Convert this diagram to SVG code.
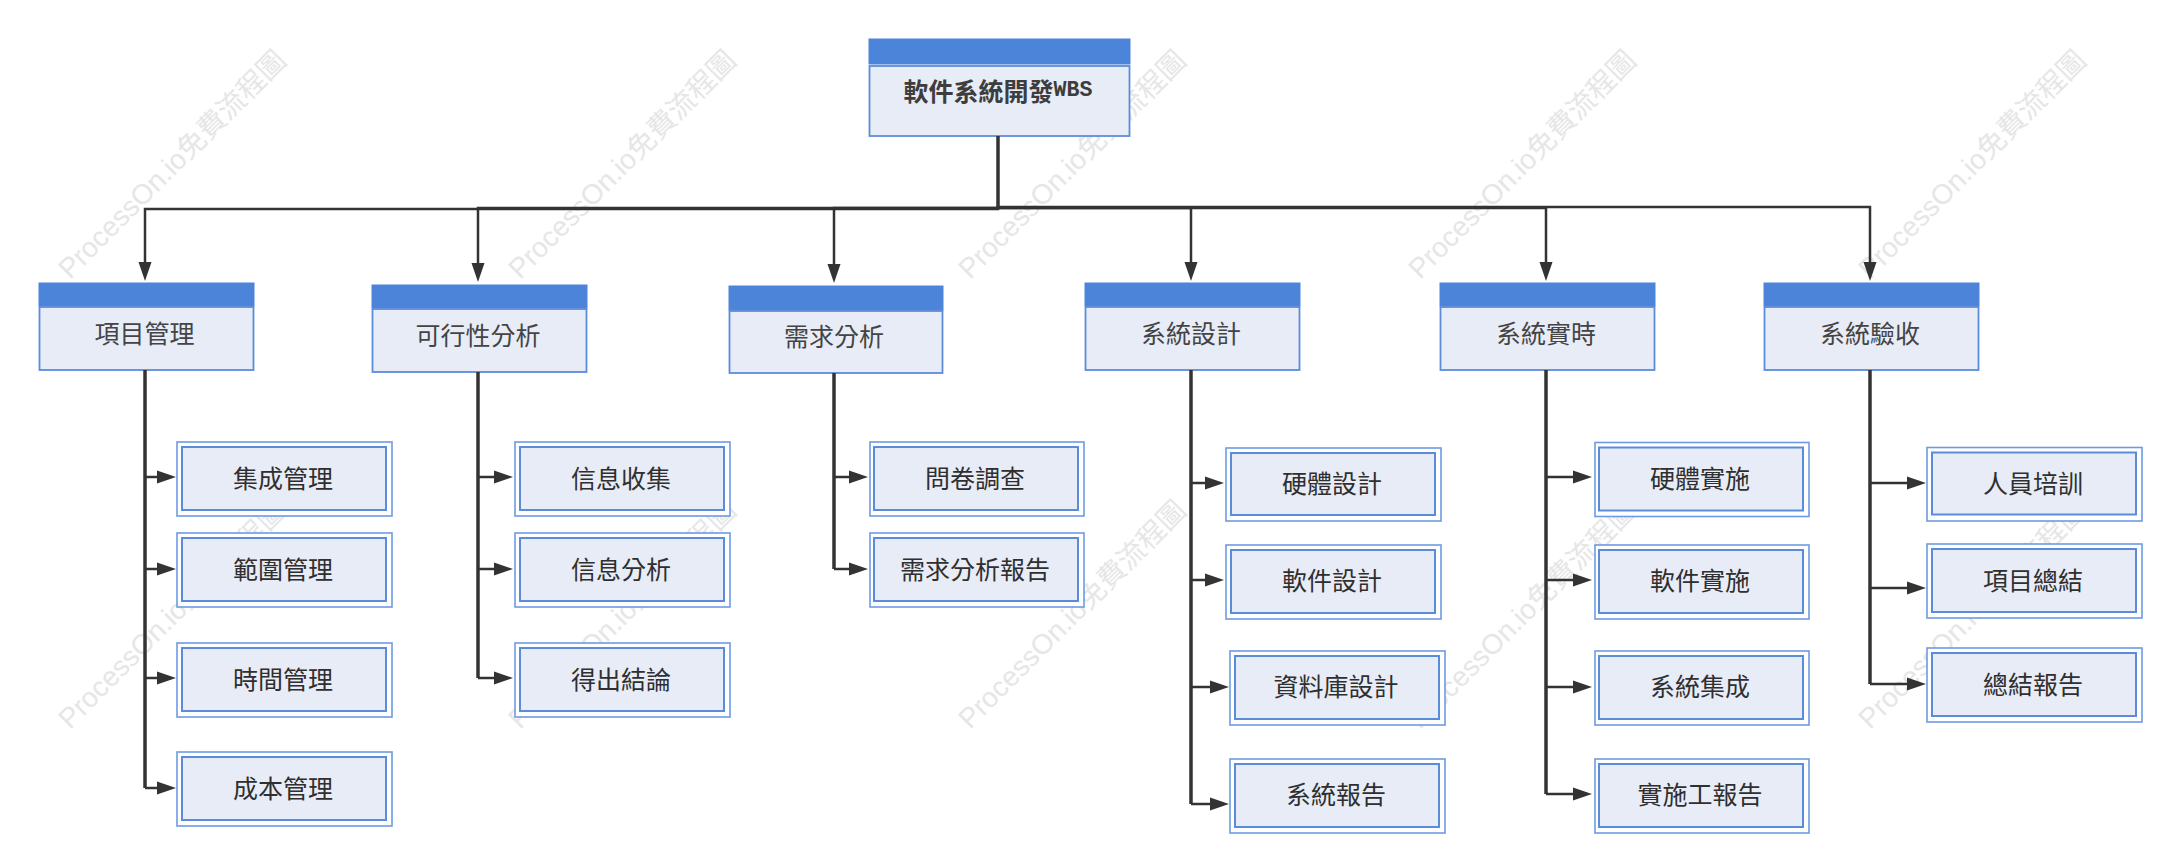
<svg xmlns="http://www.w3.org/2000/svg" width="2178" height="867" viewBox="0 0 2178 867">
<style>
.bg{fill:#fff}
.wm{font:28px "Liberation Sans","Noto Sans CJK TC",sans-serif;fill:#e6e6e6}
.hd{fill:#4c84d9;stroke:#4c84d9;stroke-width:1}
.bd{fill:#e8ecf7;stroke:#5a8cda;stroke-width:1.8}
.ou{fill:#fff;stroke:#6d9be3;stroke-width:1.6}
.in{fill:#e8ecf7;stroke:#5a8cda;stroke-width:2}
text.l{font-family:"Noto Sans CJK TC","Liberation Sans",sans-serif;font-size:25px;text-anchor:middle;dominant-baseline:central}
.p{fill:#444}
.c{fill:#2f2f2f}
.r{fill:#3d3d3d;font-weight:700}
.m{font-family:"Liberation Mono",monospace;font-size:21.6px}
.e{fill:none;stroke:#333;stroke-width:2.5;marker-end:url(#a)}
.t{fill:none;stroke:#333;stroke-width:3.5}
</style>
<defs>
<marker id="a" markerUnits="userSpaceOnUse" markerWidth="19" markerHeight="14" viewBox="0 0 19 14" refX="11" refY="7" orient="auto"><path d="M0 0.5L19 7L0 13.5z" fill="#333"/></marker>
</defs>
<rect class="bg" width="2178" height="867"/>
<g id="watermark">
<text class="wm" transform="translate(70 280) rotate(-45)">ProcessOn.io免費流程圖</text>
<text class="wm" transform="translate(520 280) rotate(-45)">ProcessOn.io免費流程圖</text>
<text class="wm" transform="translate(970 280) rotate(-45)">ProcessOn.io免費流程圖</text>
<text class="wm" transform="translate(1420 280) rotate(-45)">ProcessOn.io免費流程圖</text>
<text class="wm" transform="translate(1870 280) rotate(-45)">ProcessOn.io免費流程圖</text>
<text class="wm" transform="translate(70 730) rotate(-45)">ProcessOn.io免費流程圖</text>
<text class="wm" transform="translate(520 730) rotate(-45)">ProcessOn.io免費流程圖</text>
<text class="wm" transform="translate(970 730) rotate(-45)">ProcessOn.io免費流程圖</text>
<text class="wm" transform="translate(1420 730) rotate(-45)">ProcessOn.io免費流程圖</text>
<text class="wm" transform="translate(1870 730) rotate(-45)">ProcessOn.io免費流程圖</text>
</g>
<g id="n0"><rect class="hd" x="869" y="39" width="261" height="25"/><rect class="bd" x="869.5" y="66" width="260" height="70"/><text class="l r" x="998" y="90">軟件系統開發<tspan class="m">WBS</tspan></text></g>
<g id="n1"><rect class="hd" x="39" y="283" width="215" height="23"/><rect class="bd" x="39.5" y="307" width="214" height="63"/><text class="l p" x="144.5" y="332">項目管理</text></g>
<g id="n2"><rect class="hd" x="372" y="285" width="215" height="23"/><rect class="bd" x="372.5" y="309" width="214" height="63"/><text class="l p" x="478" y="334">可行性分析</text></g>
<g id="n3"><rect class="hd" x="729" y="286" width="214" height="24"/><rect class="bd" x="729.5" y="311" width="213" height="62"/><text class="l p" x="834" y="335">需求分析</text></g>
<g id="n4"><rect class="hd" x="1085" y="283" width="215" height="23"/><rect class="bd" x="1085.5" y="307" width="214" height="63"/><text class="l p" x="1191" y="332">系統設計</text></g>
<g id="n5"><rect class="hd" x="1440" y="283" width="215" height="23"/><rect class="bd" x="1440.5" y="307" width="214" height="63"/><text class="l p" x="1546" y="332">系統實時</text></g>
<g id="n6"><rect class="hd" x="1764" y="283" width="215" height="23"/><rect class="bd" x="1764.5" y="307" width="214" height="63"/><text class="l p" x="1870" y="332">系統驗收</text></g>

<g id="n11"><rect class="ou" x="177" y="442" width="215" height="74"/><rect class="in" x="182" y="447" width="204" height="63"/><text class="l c" x="283" y="477">集成管理</text></g>
<g id="n12"><rect class="ou" x="177" y="533" width="215" height="74"/><rect class="in" x="182" y="538" width="204" height="63"/><text class="l c" x="283" y="568">範圍管理</text></g>
<g id="n13"><rect class="ou" x="177" y="643" width="215" height="74"/><rect class="in" x="182" y="648" width="204" height="63"/><text class="l c" x="283" y="678">時間管理</text></g>
<g id="n14"><rect class="ou" x="177" y="752" width="215" height="74"/><rect class="in" x="182" y="757" width="204" height="63"/><text class="l c" x="283" y="787">成本管理</text></g>

<g id="n21"><rect class="ou" x="515" y="442" width="215" height="74"/><rect class="in" x="520" y="447" width="204" height="63"/><text class="l c" x="621" y="477">信息收集</text></g>
<g id="n22"><rect class="ou" x="515" y="533" width="215" height="74"/><rect class="in" x="520" y="538" width="204" height="63"/><text class="l c" x="621" y="568">信息分析</text></g>
<g id="n23"><rect class="ou" x="515" y="643" width="215" height="74"/><rect class="in" x="520" y="648" width="204" height="63"/><text class="l c" x="621" y="678">得出結論</text></g>

<g id="n31"><rect class="ou" x="870" y="442" width="214" height="74"/><rect class="in" x="874" y="447" width="204" height="63"/><text class="l c" x="975" y="477">問卷調查</text></g>
<g id="n32"><rect class="ou" x="870" y="533" width="214" height="74"/><rect class="in" x="874" y="538" width="204" height="63"/><text class="l c" x="975" y="568">需求分析報告</text></g>

<g id="n41"><rect class="ou" x="1226" y="448" width="215" height="73"/><rect class="in" x="1231" y="453" width="204" height="62"/><text class="l c" x="1332" y="482">硬體設計</text></g>
<g id="n42"><rect class="ou" x="1226" y="545" width="215" height="74"/><rect class="in" x="1231" y="550" width="204" height="63"/><text class="l c" x="1332" y="579">軟件設計</text></g>
<g id="n43"><rect class="ou" x="1230" y="651" width="215" height="74"/><rect class="in" x="1235" y="656" width="204" height="63"/><text class="l c" x="1336" y="685">資料庫設計</text></g>
<g id="n44"><rect class="ou" x="1230" y="759" width="215" height="74"/><rect class="in" x="1235" y="764" width="204" height="63"/><text class="l c" x="1336" y="793">系統報告</text></g>

<g id="n51"><rect class="ou" x="1595" y="442.5" width="214" height="74"/><rect class="in" x="1599" y="447.5" width="204" height="63"/><text class="l c" x="1700" y="477">硬體實施</text></g>
<g id="n52"><rect class="ou" x="1595" y="545" width="214" height="74"/><rect class="in" x="1599" y="550" width="204" height="63"/><text class="l c" x="1700" y="579">軟件實施</text></g>
<g id="n53"><rect class="ou" x="1595" y="651" width="214" height="74"/><rect class="in" x="1599" y="656" width="204" height="63"/><text class="l c" x="1700" y="685">系統集成</text></g>
<g id="n54"><rect class="ou" x="1595" y="759" width="214" height="74"/><rect class="in" x="1599" y="764" width="204" height="63"/><text class="l c" x="1700" y="793">實施工報告</text></g>

<g id="n61"><rect class="ou" x="1927" y="447.5" width="215" height="73.5"/><rect class="in" x="1932" y="452.5" width="204" height="62"/><text class="l c" x="2033" y="482">人員培訓</text></g>
<g id="n62"><rect class="ou" x="1927" y="544" width="215" height="74"/><rect class="in" x="1932" y="549" width="204" height="63"/><text class="l c" x="2033" y="579">項目總結</text></g>
<g id="n63"><rect class="ou" x="1927" y="648" width="215" height="74"/><rect class="in" x="1932" y="653" width="204" height="63"/><text class="l c" x="2033" y="683">總結報告</text></g>

<g id="connectors">
<path class="t" d="M998 136V208"/>
<path class="e" d="M998 208V209H145V273"/>
<path class="e" d="M998 208H478V274"/>
<path class="e" d="M998 208H834V275"/>
<path class="e" d="M998 208H1191V273"/>
<path class="e" d="M998 208H1546V273"/>
<path class="e" d="M998 208V207H1870V273"/>
<path class="t" d="M145 370V788"/>
<path class="e" d="M145 477H168"/><path class="e" d="M145 569H168"/><path class="e" d="M145 678H168"/><path class="e" d="M145 788H168"/>
<path class="t" d="M478 372V678"/>
<path class="e" d="M478 477H505"/><path class="e" d="M478 569H505"/><path class="e" d="M478 678H505"/>
<path class="t" d="M834 373V569"/>
<path class="e" d="M834 477H860"/><path class="e" d="M834 569H860"/>
<path class="t" d="M1191 370V804"/>
<path class="e" d="M1191 483H1216"/><path class="e" d="M1191 580H1216"/><path class="e" d="M1191 687H1221"/><path class="e" d="M1191 804H1221"/>
<path class="t" d="M1546 370V794"/>
<path class="e" d="M1546 477H1584"/><path class="e" d="M1546 580H1584"/><path class="e" d="M1546 687H1584"/><path class="e" d="M1546 794H1584"/>
<path class="t" d="M1870 370V684"/>
<path class="e" d="M1870 483H1918"/><path class="e" d="M1870 588H1918"/><path class="e" d="M1870 684H1918"/>
</g>
</svg>
